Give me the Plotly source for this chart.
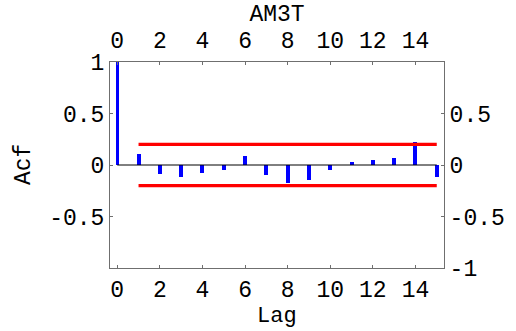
import plotly.graph_objects as go

# Autocorrelation of the AM3T series by lag
lags = list(range(16))
acf = [1.0, 0.105, -0.083, -0.115, -0.08, -0.05, 0.086, -0.095,
       -0.17, -0.15, -0.048, 0.029, 0.048, 0.07, 0.226, -0.12]
conf_band = 0.2          # approximate 95% significance bound
band_lags = [1, 15]

x_ticks = list(range(0, 15, 2))
y_ticks_left = [1, 0.5, 0, -0.5]
y_ticks_right = [0.5, 0, -0.5, -1]

x_range = [-0.34, 15.34]
y_range = [-1, 1]

FONT = "Liberation Mono"
GRAY = "#6f6f6f"
FS = 23

W, H = 516, 331
ML, MR, MT, MB = 110, 72, 62, 63
PW, PH = W - ML - MR, H - MT - MB


def px_to_paper_x(px):
    return (px - ML) / PW


def px_to_paper_y(py):
    return (H - MB - py) / PH


fig = go.Figure()

# zero baseline
fig.add_trace(go.Scatter(x=[lags[0], lags[-1]], y=[0, 0], mode="lines",
                         line=dict(color="black", width=1), hoverinfo="skip"))

# confidence band lines
for s in (1, -1):
    fig.add_trace(go.Scatter(x=band_lags, y=[s * conf_band] * 2, mode="lines",
                             line=dict(color="#ff0000", width=3.2), hoverinfo="skip"))

# acf spikes
widths = [0.14] + [0.19] * (len(lags) - 1)
fig.add_trace(go.Bar(x=lags, y=acf, base=0, width=widths,
                     marker=dict(color="#0000ff", line=dict(width=0))))

tick_font = dict(family=FONT, size=FS, color="black")
axis_common = dict(showline=True, linecolor=GRAY, linewidth=1, ticks="inside",
                   ticklen=3, tickcolor=GRAY, tickwidth=1, showgrid=False,
                   zeroline=False, tickfont=tick_font)

label_font = dict(family=FONT, size=FS, color="black")

fig.update_layout(
    width=W, height=H,
    margin=dict(l=ML, r=MR, t=MT, b=MB),
    paper_bgcolor="white", plot_bgcolor="white",
    showlegend=False, bargap=0,
    title=dict(text="AM3T", x=(ML + W - MR) / 2 / W, xanchor="center",
               y=1 - 13 / H, yanchor="middle", font=label_font),
    xaxis=dict(range=x_range, tickvals=x_ticks, side="bottom", **axis_common),
    xaxis2=dict(range=x_range, tickvals=x_ticks, side="top", overlaying="x",
                ticklabelstandoff=4, **axis_common),
    yaxis=dict(range=y_range, tickvals=y_ticks_left,
               ticktext=[f"{v:g}" for v in y_ticks_left], **axis_common),
    yaxis2=dict(range=y_range, tickvals=y_ticks_right,
                ticktext=[f"{v:g}" for v in y_ticks_right],
                side="right", overlaying="y", **axis_common),
    annotations=[
        dict(text="Lag", xref="paper", yref="paper", x=0.5, y=px_to_paper_y(316),
             xanchor="center", yanchor="middle", showarrow=False,
             font=dict(family=FONT, size=22, color="black")),
        dict(text="Acf", xref="paper", yref="paper", x=px_to_paper_x(24), y=0.5,
             xanchor="center", yanchor="middle", textangle=-90, showarrow=False,
             font=label_font),
    ],
)

# invisible trace so the top/right axes are drawn
fig.add_trace(go.Scatter(x=[0], y=[0], xaxis="x2", yaxis="y2", mode="markers",
                         marker=dict(opacity=0), hoverinfo="skip"))

fig.write_html("out.html")
